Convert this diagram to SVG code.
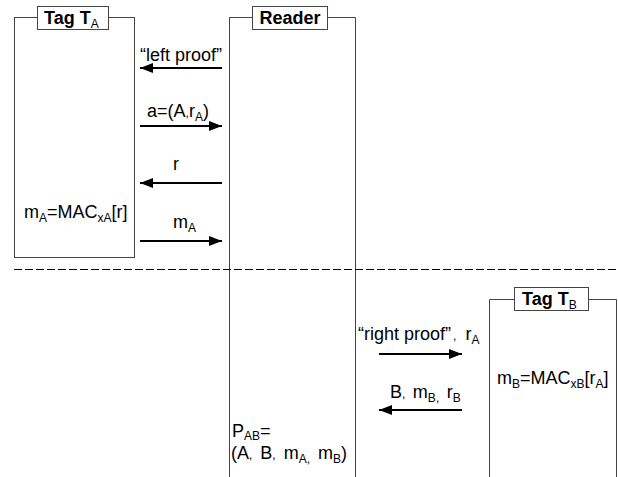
<svg xmlns="http://www.w3.org/2000/svg" width="618" height="477" viewBox="0 0 618 477">
<defs>
<style>
.frame{fill:none;stroke:#444;stroke-width:1}
.lbl{fill:#fff;stroke:#444;stroke-width:1}
.t{font-family:"Liberation Sans",Arial,sans-serif;font-size:18px;fill:#000}
.b{font-weight:bold}
.s{font-size:12px;font-weight:normal}
.msg{stroke:#000;stroke-width:2;fill:none}
.dash{stroke:#000;stroke-width:1;stroke-dasharray:8 3}
</style>
<marker id="ah" viewBox="0 0 13 10" refX="13" refY="5" markerWidth="13" markerHeight="10" markerUnits="userSpaceOnUse" orient="auto">
<path d="M0,0 L13,5 L0,10 Z" fill="#000"/>
</marker>
</defs>
<rect width="618" height="477" fill="#fff"/>
<g id="tagA">
<rect class="frame" x="14.5" y="17.5" width="120" height="240"/>
<rect class="lbl" x="37.5" y="6.5" width="71" height="23"/>
<text class="t b" x="44" y="24">Tag T<tspan class="s" dy="4">A</tspan></text>
<text class="t" x="24" y="218">m<tspan class="s" dy="4">A</tspan><tspan dy="-4">=MAC</tspan><tspan class="s" dy="4">xA</tspan><tspan dy="-4">[r]</tspan></text>
</g>
<g id="reader">
<path class="frame" d="M252.5,17.5 H229.5 V477 M327.5,17.5 H355.5 V477"/>
<rect class="lbl" x="252.5" y="6.5" width="75" height="23"/>
<text class="t b" x="290" y="24" text-anchor="middle">Reader</text>
<text class="t" x="232" y="437">P<tspan class="s" dy="3">AB</tspan><tspan dy="-3">=</tspan></text>
<text class="t" x="231" y="459" word-spacing="3">(A<tspan class="s">,</tspan> B<tspan class="s">,</tspan> m<tspan class="s" dy="4">A</tspan><tspan class="s">,</tspan><tspan dy="-4"> m</tspan><tspan class="s" dy="4">B</tspan><tspan dy="-4">)</tspan></text>
</g>
<g id="tagB">
<path class="frame" d="M514.5,299.5 H489.5 V477 M588.5,299.5 H616.5 V477"/>
<rect class="lbl" x="514.5" y="287.5" width="74" height="23"/>
<text class="t b" x="522" y="305">Tag T<tspan class="s" dy="4">B</tspan></text>
<text class="t" x="497" y="384">m<tspan class="s" dy="4">B</tspan><tspan dy="-4">=MAC</tspan><tspan class="s" dy="4">xB</tspan><tspan dy="-4">[r</tspan><tspan class="s" dy="4">A</tspan><tspan dy="-4">]</tspan></text>
</g>
<g id="connectors">
<line class="dash" x1="14" y1="269.5" x2="617" y2="269.5"/>
<line class="msg" x1="222" y1="68" x2="140" y2="68" marker-end="url(#ah)"/>
<line class="msg" x1="140" y1="126" x2="222" y2="126" marker-end="url(#ah)"/>
<line class="msg" x1="222" y1="183" x2="140" y2="183" marker-end="url(#ah)"/>
<line class="msg" x1="140" y1="241" x2="222" y2="241" marker-end="url(#ah)"/>
<line class="msg" x1="379" y1="354" x2="462" y2="354" marker-end="url(#ah)"/>
<line class="msg" x1="462" y1="410" x2="379" y2="410" marker-end="url(#ah)"/>
<text class="t" x="181" y="61" text-anchor="middle">“left proof”</text>
<text class="t" x="147" y="117">a=(A<tspan class="s">,</tspan>r<tspan class="s" dy="4">A</tspan><tspan dy="-4">)</tspan></text>
<text class="t" x="173" y="170">r</text>
<text class="t" x="173" y="228">m<tspan class="s" dy="4">A</tspan></text>
<text class="t" x="358" y="340">“right proof”<tspan class="s" dx="2">,</tspan><tspan dx="4"> r</tspan><tspan class="s" dy="4">A</tspan></text>
<text class="t" x="390" y="398" word-spacing="2.5">B<tspan class="s">,</tspan> m<tspan class="s" dy="4">B</tspan><tspan class="s">,</tspan><tspan dy="-4"> r</tspan><tspan class="s" dy="4">B</tspan></text>
</g>
</svg>
